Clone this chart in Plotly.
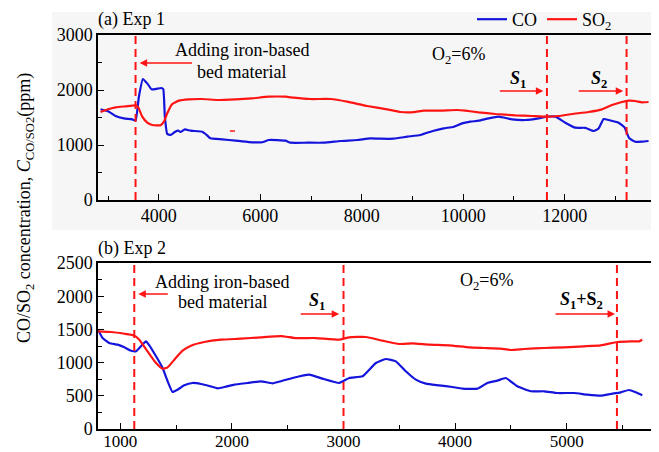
import plotly.graph_objects as go

# ---------------- Exp 1 data ----------------
exp1_co_t = [2850, 3015, 3147, 3310, 3476, 3541, 3606, 3685, 3771, 3856, 3968, 4053, 4087, 4118, 4165,
             4230, 4315, 4382, 4433, 4512, 4624, 4855, 4920, 5018, 5249, 5511, 5773, 6037, 6167, 6496,
             6594, 6923, 7251, 7579, 7908, 8170, 8367, 8630, 8893, 9155, 9418, 9615, 9812, 9977, 10140,
             10304, 10501, 10698, 10962, 11224, 11486, 11651, 11815, 12012, 12209, 12406, 12570, 12668,
             12767, 12865, 13062, 13180, 13273, 13391, 13523, 13653]
exp1_co = [1649, 1606, 1527, 1485, 1467, 1442, 1878, 2200, 2121, 2012, 2024, 2036, 2012, 1515, 1200,
           1182, 1236, 1260, 1236, 1285, 1260, 1242, 1200, 1121, 1103, 1079, 1054, 1050, 1091, 1079,
           1042, 1042, 1042, 1073, 1091, 1121, 1115, 1115, 1151, 1182, 1260, 1303, 1333, 1394, 1424,
           1442, 1485, 1515, 1467, 1455, 1485, 1515, 1515, 1406, 1315, 1312, 1255, 1300,
           1473, 1455, 1406, 1321, 1121, 1060, 1060, 1073]

exp1_so2_t = [2850, 3015, 3147, 3344, 3541, 3594, 3673, 3771, 3870, 4033, 4099, 4165, 4264, 4394, 4591,
              4855, 5182, 5511, 5840, 6167, 6496, 6660, 6988, 7382, 7711, 8105, 8499, 8762, 9024, 9221,
              9550, 9878, 10042, 10304, 10633, 11027, 11356, 11651, 11880, 12144, 12471, 12735, 12932,
              13129, 13259, 13391, 13523, 13653]
exp1_so2 = [1600, 1654, 1685, 1703, 1721, 1685, 1515, 1406, 1364, 1358, 1424, 1576, 1745, 1806, 1830,
            1836, 1818, 1830, 1848, 1878, 1878, 1860, 1836, 1836, 1788, 1709, 1648, 1600, 1597, 1624,
            1624, 1636, 1624, 1594, 1564, 1539, 1527, 1515, 1527, 1564, 1600, 1648, 1727,
            1782, 1806, 1800, 1776, 1782]

exp1_events = [3540, 11650, 13220]

# ---------------- Exp 2 data ----------------
exp2_co_t = [800, 841, 901, 976, 1036, 1096, 1141, 1185, 1230, 1260, 1320, 1379, 1424, 1468, 1513,
             1573, 1647, 1723, 1797, 1871, 1947, 2021, 2140, 2260, 2364, 2440, 2543, 2692, 2812, 2961,
             3051, 3170, 3290, 3379, 3469, 3558, 3648, 3738, 3857, 3976, 4065, 4200, 4289, 4379, 4454,
             4558, 4678, 4797, 4916, 5066, 5185, 5305, 5394, 5484, 5558, 5618, 5677]
exp2_co = [1496, 1370, 1295, 1270, 1230, 1179, 1170, 1245, 1321, 1260, 1095, 919, 718, 557, 592,
           658, 693, 678, 648, 613, 638, 668, 693, 718, 688, 720, 768, 818, 758, 693,
           768, 793, 994, 1054, 1019, 869, 743, 683, 658, 633, 608, 608, 693, 728, 768,
           643, 568, 568, 542, 542, 517, 502, 527, 552, 587, 552, 507]

exp2_so2_t = [800, 917, 1036, 1119, 1170, 1244, 1320, 1379, 1424, 1484, 1558, 1633, 1752, 1902, 2081,
              2260, 2440, 2573, 2752, 2961, 3051, 3200, 3349, 3499, 3618, 3767, 3946, 4125, 4260, 4409,
              4499, 4618, 4797, 4976, 5155, 5305, 5453, 5573, 5648, 5677]
exp2_so2 = [1471, 1461, 1435, 1411, 1345, 1170, 994, 908, 929, 1044, 1179, 1255, 1310, 1345, 1360,
            1381, 1400, 1370, 1370, 1345, 1381, 1386, 1330, 1280, 1290, 1270, 1260, 1230, 1220, 1210,
            1190, 1205, 1220, 1230, 1245, 1260, 1310, 1320, 1320, 1345]

exp2_events = [1125, 3000, 5450]

x1_ticks = [4000, 6000, 8000, 10000, 12000]
x1_labels = ["4000", "6000", "8000", "10000", "12000"]
y1_ticks = [0, 1000, 2000, 3000]
y1_labels = ["0", "1000", "2000", "3000"]
x2_ticks = [1000, 2000, 3000, 4000, 5000]
x2_labels = ["1000", "2000", "3000", "4000", "5000"]
y2_ticks = [0, 500, 1000, 1500, 2000, 2500]
y2_labels = ["0", "500", "1000", "1500", "2000", "2500"]

BLUE = "#1414dc"
RED = "#ff1414"
FONT = "Liberation Serif"
OFF = 8                      # page body margin of the html page
W, H = 659 - OFF, 452 - OFF  # figure size so that it fits the window


def px(xp):
    return (xp - OFF) / W


def py(yp):
    return 1 - (yp - OFF) / H


line_kw = dict(shape="spline", smoothing=0.4, width=2.2)

fig = go.Figure()
fig.add_trace(go.Scatter(x=exp1_co_t, y=exp1_co, mode="lines", name="CO",
                         line=dict(color=BLUE, **line_kw), xaxis="x", yaxis="y"))
fig.add_trace(go.Scatter(x=exp1_so2_t, y=exp1_so2, mode="lines", name="SO<sub>2</sub>",
                         line=dict(color=RED, **line_kw), xaxis="x", yaxis="y"))
fig.add_trace(go.Scatter(x=exp2_co_t, y=exp2_co, mode="lines", name="CO", showlegend=False,
                         line=dict(color=BLUE, **line_kw), xaxis="x2", yaxis="y2"))
fig.add_trace(go.Scatter(x=exp2_so2_t, y=exp2_so2, mode="lines", name="SO<sub>2</sub>", showlegend=False,
                         line=dict(color=RED, **line_kw), xaxis="x2", yaxis="y2"))

shapes = []
# gray background of upper panel
shapes.append(dict(type="rect", xref="paper", yref="paper", x0=px(52), x1=1, y0=py(230), y1=py(12),
                   fillcolor="#f6f6f6", line=dict(width=0), layer="below"))
for e in exp1_events:
    shapes.append(dict(type="line", xref="x", yref="y domain", x0=e, x1=e, y0=0, y1=1,
                       line=dict(color=RED, width=2, dash="8px,5px")))
for e in exp2_events:
    shapes.append(dict(type="line", xref="x2", yref="y2 domain", x0=e, x1=e, y0=0, y1=1,
                       line=dict(color=RED, width=2, dash="8px,5px")))
# small stray red mark in panel (a)
shapes.append(dict(type="line", xref="x", yref="y", x0=5400, x1=5500, y0=1254, y1=1254,
                   line=dict(color=RED, width=1.5)))

tf = dict(family=FONT, size=18, color="black")
ann = []
ann.append(dict(text="(a) Exp 1", xref="paper", yref="paper", x=px(96), y=py(20), xanchor="left",
                yanchor="middle", showarrow=False, font=tf))
ann.append(dict(text="(b) Exp 2", xref="paper", yref="paper", x=px(96), y=py(248), xanchor="left",
                yanchor="middle", showarrow=False, font=tf))
ann.append(dict(text="CO/SO<sub>2</sub> concentration, <i>C</i><sub>CO/SO2</sub>(ppm)", xref="paper",
                yref="paper", x=px(25), y=py(208), textangle=-90, showarrow=False, font=tf,
                xanchor="center", yanchor="middle"))

# panel (a) texts
ann.append(dict(text="Adding iron-based", xref="x", yref="y", x=5629, y=2727, showarrow=False, font=tf))
ann.append(dict(text="bed material", xref="x", yref="y", x=5629, y=2327, showarrow=False, font=tf))
ann.append(dict(text="O<sub>2</sub>=6%", xref="x", yref="y", x=9904, y=2636, showarrow=False, font=tf))
ann.append(dict(text="<b><i>S</i><sub>1</sub></b>", xref="x", yref="y", x=11086, y=2200, showarrow=False, font=tf))
ann.append(dict(text="<b><i>S</i><sub>2</sub></b>", xref="x", yref="y", x=12682, y=2200, showarrow=False, font=tf))
# panel (b) texts
ann.append(dict(text="Adding iron-based", xref="x2", yref="y2", x=1913, y=2214, showarrow=False, font=tf))
ann.append(dict(text="bed material", xref="x2", yref="y2", x=1913, y=1913, showarrow=False, font=tf))
ann.append(dict(text="O<sub>2</sub>=6%", xref="x2", yref="y2", x=4278, y=2214, showarrow=False, font=tf))
ann.append(dict(text="<b><i>S</i><sub>1</sub></b>", xref="x2", yref="y2", x=2764, y=1913, showarrow=False, font=tf))
ann.append(dict(text="<b><i>S</i><sub>1</sub>+S<sub>2</sub></b>", xref="x2", yref="y2", x=5128, y=1928,
                showarrow=False, font=tf))

# arrows
arrows = [("x", "y", 3620, 4684, 2491), ("x", "y", 11580, 10692, 1982), ("x", "y", 13155, 12248, 1982),
          ("x2", "y2", 1161, 1439, 2033), ("x2", "y2", 2961, 2603, 1732), ("x2", "y2", 5433, 4886, 1732)]
for xr, yr, head, tail, yy in arrows:
    ann.append(dict(text="", xref=xr, yref=yr, x=head, y=yy, axref=xr, ayref=yr, ax=tail, ay=yy,
                    showarrow=True, arrowhead=2, arrowsize=1, arrowwidth=1.5, arrowcolor=RED, standoff=0))

axis_common = dict(showline=True, linecolor="black", linewidth=1.5, mirror=True, showgrid=False,
                   zeroline=False, ticks="inside", ticklen=6, tickwidth=1.2, tickcolor="black")
tick_font = dict(family=FONT, size=18, color="black")

fig.update_layout(
    width=W, height=H,
    margin=dict(l=0, r=0, t=0, b=0, autoexpand=False),
    paper_bgcolor="white", plot_bgcolor="rgba(0,0,0,0)",
    font=dict(family=FONT, size=18, color="black"),
    xaxis=dict(domain=[px(98), px(656)], anchor="y", range=[2800, 13800], tickvals=x1_ticks,
               ticktext=x1_labels, ticklabelstandoff=-1, tickfont=tick_font,
               minor=dict(dtick=1000, tick0=0, ticks="inside", ticklen=4, tickcolor="black"), **axis_common),
    yaxis=dict(domain=[py(200), py(35)], anchor="x", range=[0, 3000], tickvals=y1_ticks, ticktext=y1_labels,
               tickfont=tick_font,
               minor=dict(dtick=500, tick0=0, ticks="inside", ticklen=4, tickcolor="black"), **axis_common),
    xaxis2=dict(domain=[px(98), px(656)], anchor="y2", range=[800, 5800], tickvals=x2_ticks,
                ticktext=x2_labels, ticklabelstandoff=-4, tickfont=dict(family=FONT, size=17, color="black"),
                minor=dict(dtick=500, tick0=0, ticks="inside", ticklen=4, tickcolor="black"), **axis_common),
    yaxis2=dict(domain=[py(429), py(263)], anchor="x2", range=[0, 2500], tickvals=y2_ticks, ticktext=y2_labels,
                tickfont=tick_font,
                minor=dict(dtick=250, tick0=0, ticks="inside", ticklen=4, tickcolor="black"), **axis_common),
    legend=dict(orientation="h", x=px(472), y=py(1), xanchor="left", yanchor="top",
                bgcolor="rgba(0,0,0,0)", font=dict(family=FONT, size=18), itemwidth=30,
                tracegroupgap=0),
    shapes=shapes, annotations=ann,
)

fig.write_html("out.html")
